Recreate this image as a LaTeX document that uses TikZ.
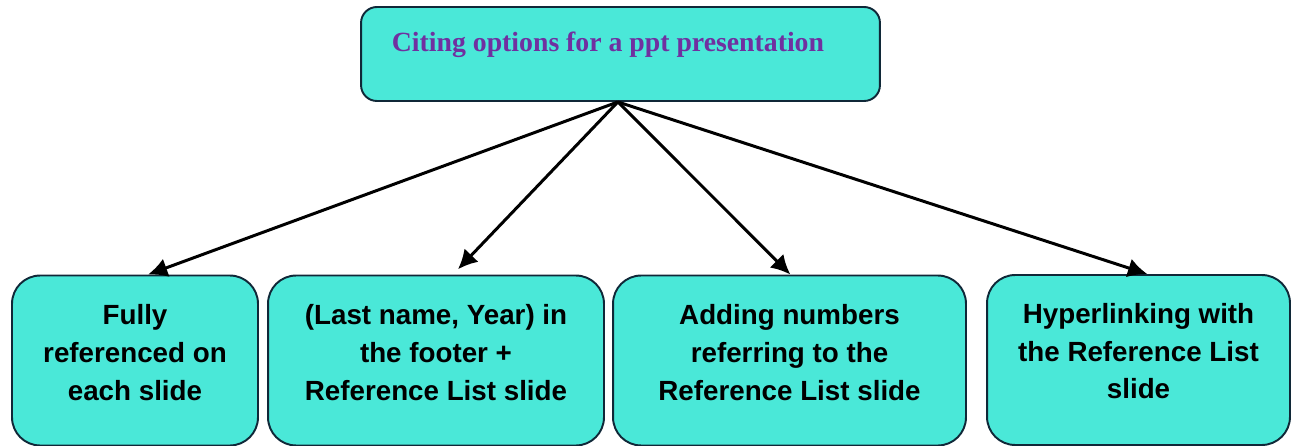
\documentclass[tikz,border=0pt]{standalone}
\usepackage{fontspec}
\setsansfont{Liberation Sans}
\newfontfamily\headfont{Liberation Serif}
\usetikzlibrary{positioning,arrows.meta}
\definecolor{boxfill}{RGB}{74,232,216}
\definecolor{boxline}{RGB}{16,40,56}
\definecolor{headpurple}{RGB}{112,48,160}
\tikzset{box/.style={draw=boxline, line width=1.1pt, fill=boxfill, rounded corners=16pt, minimum height=3.4cm},
         lbl/.style={align=center, font=\sffamily\bfseries\fontsize{15.8}{21.5}\selectfont},
         line/.style={draw, line width=1.7pt, -{Latex[length=11pt,width=11pt]}}}

\begin{document}
\begin{tikzpicture}[x=0.02cm,y=-0.02cm]
        \useasboundingbox (0,0) rectangle (1291,446);
        % top box
        \node[box, rounded corners=9pt, minimum width=10.38cm, minimum height=1.88cm] (top) at (620.5,54) {};
        \node[text=headpurple, font=\headfont\bfseries\fontsize{15.8}{19}\selectfont] (toptxt) at (608,45) {Citing options for a ppt presentation};
        % bottom boxes
        \node[box, minimum width=4.92cm] (full) at (135,360.5) {};
        \node[box, minimum width=6.72cm] (foot) at (436,360.5) {};
        \node[box, minimum width=7.06cm] (numb) at (789.5,360.5) {};
        \node[box, minimum width=6.06cm] (link) at (1138.5,360) {};
        \node[lbl] (fulltxt) at ([yshift=4.5pt]full.center) {Fully\\referenced on\\each slide};
        \node[lbl] (foottxt) at ([yshift=4.5pt]foot.center) {(Last name, Year) in\\the footer +\\Reference List slide};
        \node[lbl] (numbtxt) at ([yshift=4.5pt]numb.center) {Adding numbers\\referring to the\\Reference List slide};
        \node[lbl] (linktxt) at ([yshift=5pt]link.center) {Hyperlinking with\\the Reference List\\slide};
        % arrows
        \coordinate (hub) at ([xshift=-1.5pt]top.south);
        \path[line] (hub) -- ([xshift=7.4pt]full.north);
        \path[line] (hub) -- ([xshift=12.5pt,yshift=3pt]foot.north);
        \path[line] (hub) -- ([xshift=0.5pt]numb.north);
        \path[line] (hub) -- ([xshift=5pt]link.north);
\end{tikzpicture}
\end{document}
